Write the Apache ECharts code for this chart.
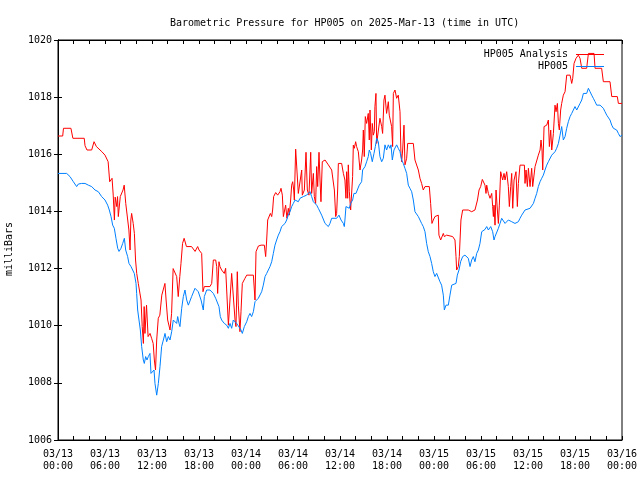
<!DOCTYPE html>
<html>
<head>
<meta charset="utf-8">
<script src="https://cdn.jsdelivr.net/npm/echarts@6/dist/echarts.min.js"></script>
<style>html,body{margin:0;padding:0;background:#fff;}#c{width:640px;height:480px;}</style>
</head>
<body>
<div id="c"></div>
<script>
var titleText = 'Barometric Pressure for HP005 on 2025-Mar-13 (time in UTC)';
var yName = 'milliBars';
var xTickLabels = ['03/13\n00:00','03/13\n06:00','03/13\n12:00','03/13\n18:00','03/14\n00:00','03/14\n06:00','03/14\n12:00','03/14\n18:00','03/15\n00:00','03/15\n06:00','03/15\n12:00','03/15\n18:00','03/16\n00:00'];
var seriesNames = ['HP005 Analysis', 'HP005'];

// [hours since 03/13 00:00 UTC, milliBars]
var analysisData = [
[0.0,1016.64],[0.6,1016.64],[0.7,1016.91],[1.65,1016.91],[1.9,1016.56],[3.35,1016.56],[3.45,1016.3],[3.7,1016.15],[4.3,1016.15],[4.6,1016.44],[4.9,1016.27],[5.6,1016.09],[6.0,1015.97],[6.4,1015.74],[6.6,1015.04],[6.9,1015.16],[7.05,1014.57],[7.2,1013.7],[7.3,1014.5],[7.5,1014.17],[7.6,1014.52],[7.7,1013.82],[7.95,1014.52],[8.1,1014.52],[8.3,1014.75],[8.45,1014.92],[8.65,1014.28],[8.9,1013.7],[9.05,1013.35],[9.2,1012.65],[9.3,1013.7],[9.4,1013.93],[9.6,1013.58],[9.75,1013.23],[9.9,1012.3],[10.05,1011.83],[10.25,1011.48],[10.45,1011.54],[10.6,1010.9],[10.75,1009.97],[10.9,1009.38],[11.0,1010.67],[11.1,1009.73],[11.3,1010.72],[11.5,1009.62],[11.75,1009.73],[11.95,1009.56],[12.15,1009.38],[12.3,1008.8],[12.45,1008.45],[12.6,1009.5],[12.8,1010.26],[13.0,1010.37],[13.25,1011.07],[13.45,1011.13],[13.65,1011.48],[13.8,1010.9],[14.0,1010.2],[14.3,1009.85],[14.5,1010.43],[14.7,1012.0],[14.95,1011.95],[15.15,1011.72],[15.35,1011.02],[15.55,1011.72],[15.7,1012.18],[15.9,1012.88],[16.1,1013.06],[16.4,1012.77],[16.6,1012.71],[17.05,1012.77],[17.5,1012.6],
[17.7,1012.65],[17.83,1012.77],[18.0,1012.65],[18.13,1012.71],[18.34,1012.53],[18.51,1011.19],[18.68,1011.37],[19.4,1011.37],[19.62,1011.48],[19.83,1012.3],[20.13,1012.3],[20.26,1012.07],[20.38,1011.13],[20.55,1012.24],[20.68,1012.07],[20.89,1011.95],[21.11,1012.01],[21.23,1011.83],[21.4,1012.01],[21.62,1011.95],[21.75,1010.02],[21.96,1009.97],[22.17,1011.83],[22.38,1011.83],[22.6,1010.2],[22.72,1009.97],[22.89,1011.89],[23.02,1010.72],[23.23,1009.79],[23.36,1010.49],[23.53,1011.48],[23.66,1011.42],[23.87,1011.66],[24.09,1011.77],[24.94,1011.77],[25.15,1010.9],[25.28,1012.59],[25.58,1012.79],[25.92,1012.82],[26.34,1012.82],[26.51,1012.42],[26.64,1013.0],[26.77,1013.7],[26.94,1013.76],[27.11,1013.93],[27.28,1013.82],[27.4,1014.05],[27.53,1014.52],[27.79,1014.66],[28.04,1014.57],[28.34,1014.69],[28.47,1014.81],[28.64,1014.57],[28.77,1013.82],[28.89,1013.76],[29.06,1014.22],[29.23,1013.76],[29.4,1014.11],[29.53,1013.87],[29.7,1014.4],[29.83,1014.92],[29.96,1015.04],[30.09,1014.75],[30.17,1014.4],[30.34,1016.18],[30.51,1016.18],[30.68,1014.63],[30.89,1014.57],[31.11,1015.45],[31.19,1014.57],[31.45,1014.75],[31.66,1016.07],[31.83,1014.75],[32.04,1014.57],[32.26,1016.07],[32.38,1014.63],[32.6,1015.33],[32.72,1014.52],[32.89,1014.28],[33.02,1015.57],[33.15,1014.87],[33.32,1016.07],[33.45,1015.1],[33.57,1014.34],[33.74,1015.74],[33.87,1015.68],[34.09,1015.8],[34.3,1015.74],[34.51,1015.63],[34.72,1015.68],[34.94,1015.45],[35.15,1015.45],[35.28,1014.75],[35.45,1013.82],[35.57,1013.93],[35.7,1014.75],[35.79,1015.68],[36.0,1015.72],[36.21,1015.68],[36.43,1015.33],
[36.63,1015.1],[36.76,1014.46],[36.85,1015.39],[36.98,1014.46],[37.06,1015.63],[37.19,1014.69],[37.36,1014.05],[37.53,1014.05],[37.61,1015.22],[37.7,1016.32],[37.83,1016.21],[38.0,1016.44],[38.12,1016.27],[38.34,1016.09],[38.55,1015.45],[38.76,1015.8],[38.89,1016.15],[38.98,1016.85],[39.1,1015.92],[39.23,1017.32],[39.4,1017.08],[39.61,1017.43],[39.74,1016.5],[39.83,1017.55],[40.0,1016.15],[40.12,1017.08],[40.25,1016.67],[40.38,1016.79],[40.46,1017.67],[40.59,1018.13],[40.68,1016.38],[40.89,1016.38],[41.1,1017.26],[41.32,1016.97],[41.44,1016.73],[41.61,1017.9],[41.74,1018.07],[41.95,1017.43],[42.17,1017.84],[42.29,1017.37],[42.46,1017.37],[42.59,1016.97],[42.72,1016.27],[42.81,1018.13],[43.02,1018.25],[43.23,1017.96],[43.44,1018.07],[43.66,1017.49],[43.78,1016.03],[43.87,1015.74],[44.0,1016.15],[44.17,1017.02],[44.29,1015.63],[44.51,1015.86],[44.64,1016.38],[45.36,1016.38],[45.57,1015.8],[45.78,1015.74],[46.0,1015.45],[46.21,1015.16],[46.42,1014.98],[46.63,1014.75],[46.85,1014.87],[47.06,1014.93],[47.4,1014.87],[47.57,1014.28],[47.74,1013.58],[47.91,1013.7],[48.12,1013.82],[48.34,1013.82],[48.55,1013.87],[48.63,1013.17],[48.85,1013.0],[49.06,1013.06],[49.19,1013.23],[49.32,1013.12],[49.61,1013.17],[50.38,1013.12],[50.68,1013.0],[50.81,1012.42],[50.89,1011.95],[51.1,1012.07],[51.23,1012.42],[51.44,1013.7],[51.66,1014.05],[52.38,1014.05],[52.81,1013.99],[53.23,1014.05],[53.45,1013.99],[53.55,1014.4],[53.75,1014.75],
[53.96,1014.87],[54.17,1015.12],[54.39,1015.1],[54.51,1014.92],[54.64,1014.63],[54.73,1014.92],[54.94,1014.63],[55.15,1014.46],[55.37,1014.63],[55.49,1014.17],[55.58,1013.82],[55.66,1014.22],[55.79,1013.52],[55.92,1014.75],[56.09,1014.05],[56.22,1013.58],[56.34,1014.22],[56.51,1015.39],[56.64,1015.45],[56.77,1015.1],[56.94,1015.33],[57.07,1015.1],[57.28,1015.39],[57.49,1014.87],[57.62,1014.17],[57.79,1014.87],[57.92,1015.33],[58.05,1014.11],[58.22,1015.1],[58.47,1015.39],[58.64,1014.17],[58.77,1014.98],[58.98,1015.62],[59.54,1015.62],[59.62,1014.98],[59.75,1015.45],[59.92,1014.87],[60.05,1015.51],[60.26,1014.87],[60.47,1015.51],[60.6,1014.87],[60.9,1015.57],[61.11,1015.57],[61.32,1015.97],[61.54,1016.15],[61.66,1016.5],[61.79,1016.15],[61.88,1015.45],[62.05,1016.97],[62.39,1017.02],[62.6,1017.2],[62.73,1016.27],[62.9,1016.85],[63.03,1016.15],[63.24,1016.73],[63.45,1017.72],[63.58,1017.49],[63.75,1017.78],[63.88,1017.08],[64.0,1016.85],[64.17,1017.55],[64.3,1017.78],[64.51,1018.07],[64.73,1018.19],[64.94,1018.77],[65.37,1018.77],[65.58,1018.48],[65.71,1018.66],[65.88,1019.18],[66.0,1019.12],[66.13,1019.36],[66.43,1019.47],[66.64,1019.36],[66.86,1019.01],[67.49,1019.01],[67.71,1019.53],[68.43,1019.53],[68.56,1019.01],[69.4,1019.01],[69.62,1018.54],[70.47,1018.54],[70.69,1018.02],[71.4,1018.02],[71.54,1017.78],[72.0,1017.78]
];

var stationData = [
[0.0,1015.33],[1.11,1015.33],[1.23,1015.39],[1.53,1015.22],[1.96,1015.04],[2.38,1014.87],[2.6,1014.96],[3.02,1014.98],[3.23,1015.04],[3.45,1014.98],[3.66,1015.04],[3.87,1014.92],[4.3,1014.87],[4.72,1014.75],[5.15,1014.69],[5.57,1014.52],[6.0,1014.4],[6.34,1014.22],[6.55,1014.05],[6.77,1013.82],[6.98,1013.52],[7.19,1013.41],[7.4,1013.06],[7.62,1012.71],[7.79,1012.6],[8.04,1012.71],[8.26,1012.88],[8.47,1013.06],[8.64,1012.65],[8.89,1012.42],[9.06,1012.18],[9.32,1012.07],[9.53,1012.07],[9.74,1011.83],[9.96,1011.48],[10.04,1011.13],[10.17,1010.55],[10.34,1010.2],[10.51,1009.85],[10.68,1009.27],[10.89,1008.8],[11.02,1008.68],[11.19,1008.92],[11.36,1008.8],[11.53,1008.92],[11.74,1009.03],[11.87,1008.33],[12.04,1008.31],[12.26,1008.45],[12.38,1007.98],[12.6,1007.57],[12.81,1007.98],[13.02,1008.57],[13.23,1009.27],[13.45,1009.5],[13.66,1009.73],[13.87,1009.44],[14.09,1009.62],[14.3,1009.5],[14.51,1009.79],[14.72,1010.2],[14.94,1010.2],[15.15,1010.08],[15.28,1010.32],[15.45,1010.08],[15.57,1009.97],[15.79,1010.61],[16.0,1011.02],[16.21,1011.25],[16.43,1010.9],[16.64,1010.72],[16.85,1010.72],[17.06,1011.02],[17.28,1010.96],[17.49,1011.31],[17.7,1011.37],[17.91,1011.19],[18.26,1010.9],[18.55,1010.55],
[18.68,1011.02],[18.98,1011.25],[19.4,1011.25],[19.83,1011.13],[20.13,1010.96],[20.38,1010.9],[20.55,1010.67],[20.72,1010.32],[20.89,1010.2],[21.23,1010.08],[21.4,1010.14],[21.53,1010.02],[21.75,1009.91],[21.96,1010.08],[22.17,1009.91],[22.38,1010.2],[22.6,1010.14],[22.81,1010.08],[23.02,1010.14],[23.36,1009.85],[23.53,1009.73],[23.79,1009.97],[24.09,1010.14],[24.3,1010.32],[24.51,1010.43],[24.72,1010.32],[24.94,1010.49],[25.15,1010.84],[25.36,1010.9],[25.57,1010.96],[26.0,1011.19],[26.21,1011.42],[26.43,1011.72],[26.64,1011.83],[26.85,1011.95],[27.06,1012.07],[27.28,1012.24],[27.49,1012.53],[27.7,1012.82],[27.91,1013.0],[28.13,1013.17],[28.34,1013.29],[28.55,1013.47],[28.77,1013.52],[28.98,1013.58],[29.19,1013.7],[29.4,1013.87],[29.62,1013.99],[29.83,1014.17],[30.04,1014.28],[30.26,1014.4],[30.47,1014.4],[30.68,1014.34],[30.89,1014.46],[31.11,1014.46],[31.32,1014.52],[31.53,1014.52],[31.74,1014.57],[31.96,1014.63],[32.17,1014.69],[32.38,1014.52],[32.6,1014.34],[32.81,1014.28],[33.02,1014.22],[33.23,1014.11],[33.45,1014.11],[33.66,1013.87],[33.87,1013.82],[34.09,1013.58],[34.3,1013.52],[34.51,1013.47],[34.72,1013.58],[34.94,1013.76],[35.15,1013.76],[35.57,1013.76],[35.87,1013.87],[36.13,1013.7],[36.43,1013.58],[36.55,1013.47],
[36.63,1013.7],[36.76,1014.17],[36.98,1014.11],[37.19,1014.11],[37.36,1014.28],[37.61,1014.4],[37.78,1014.63],[38.04,1014.63],[38.21,1014.75],[38.46,1014.92],[38.76,1015.04],[38.89,1015.45],[39.19,1015.57],[39.4,1015.74],[39.61,1015.92],[39.74,1016.15],[39.91,1016.03],[40.12,1015.74],[40.34,1016.03],[40.51,1016.27],[40.68,1016.56],[40.89,1016.44],[41.1,1015.92],[41.32,1015.74],[41.53,1015.86],[41.74,1016.33],[41.95,1016.15],[42.17,1016.33],[42.38,1016.21],[42.51,1016.33],[42.68,1015.8],[42.89,1016.15],[43.1,1016.21],[43.23,1016.33],[43.44,1016.21],[43.66,1016.09],[43.87,1015.8],[44.08,1015.68],[44.29,1015.51],[44.51,1015.33],[44.72,1014.92],[44.93,1014.81],[45.15,1014.69],[45.36,1014.4],[45.57,1013.99],[45.78,1013.93],[46.0,1013.82],[46.21,1013.7],[46.42,1013.58],[46.63,1013.47],[46.85,1013.29],[47.06,1012.88],[47.27,1012.59],[47.49,1012.42],[47.7,1012.18],[47.91,1011.89],[48.12,1011.72],[48.34,1011.83],[48.55,1011.77],[48.76,1011.54],[48.97,1011.42],[49.19,1011.07],[49.32,1010.55],[49.53,1010.72],[49.83,1010.72],[50.04,1011.07],[50.26,1011.42],[50.47,1011.42],[50.81,1011.48],[50.98,1011.77],[51.19,1011.95],[51.4,1012.24],[51.66,1012.42],[51.95,1012.47],[52.17,1012.53],[52.38,1012.36],[52.6,1012.07],[52.81,1012.3],[53.02,1012.42],[53.23,1012.24],[53.45,1012.53],[53.66,1012.65],[53.87,1012.88],
[54.09,1013.29],[54.3,1013.35],[54.51,1013.37],[54.73,1013.47],[54.94,1013.35],[55.24,1013.47],[55.49,1013.29],[55.66,1013.0],[55.79,1013.12],[56.0,1013.17],[56.22,1013.41],[56.43,1013.58],[56.64,1013.76],[56.86,1013.76],[57.07,1013.58],[57.28,1013.64],[57.49,1013.7],[57.71,1013.76],[57.92,1013.64],[58.13,1013.64],[58.34,1013.58],[58.56,1013.58],[58.77,1013.64],[58.98,1013.76],[59.2,1013.87],[59.41,1013.93],[59.62,1014.05],[59.83,1014.11],[60.26,1014.11],[60.47,1014.17],[60.69,1014.28],[60.9,1014.46],[61.11,1014.63],[61.32,1014.87],[61.54,1015.04],[61.75,1015.16],[61.96,1015.27],[62.17,1015.45],[62.39,1015.62],[62.6,1015.74],[62.81,1015.8],[63.03,1015.97],[63.24,1016.03],[63.45,1016.09],[63.66,1016.21],[63.88,1016.38],[64.09,1016.67],[64.3,1016.97],[64.51,1016.5],[64.73,1016.62],[64.94,1016.91],[65.15,1017.14],[65.37,1017.32],[65.58,1017.43],[65.79,1017.49],[66.0,1017.67],[66.22,1017.55],[66.43,1017.61],[66.64,1017.78],[66.86,1017.9],[67.07,1018.13],[67.28,1018.19],[67.49,1018.13],[67.71,1018.31],[67.92,1018.19],[68.13,1018.07],[68.34,1017.96],[68.56,1017.84],[68.77,1017.72],[68.98,1017.67],[69.2,1017.72],[69.41,1017.78],[69.62,1017.61],[69.83,1017.49],[70.05,1017.37],[70.26,1017.32],[70.47,1017.2],[70.69,1017.02],[70.9,1016.91],[71.11,1016.85],[71.32,1016.85],[71.54,1016.73],[71.75,1016.62],[72.0,1016.67]
];

var FONT = '"DejaVu Sans Mono", "Liberation Mono", monospace';
var chart = echarts.init(document.getElementById('c'), null, {renderer: 'canvas'});
function tick() { return {show: true, inside: true, length: 4, lineStyle: {color: '#000000', width: 1}}; }
function minor() { return {show: true, splitNumber: 3, length: 4, lineStyle: {color: '#000000', width: 1}}; }
chart.setOption({
  animation: false,
  backgroundColor: '#ffffff',
  title: {
    text: titleText, left: 165, top: 13,
    textStyle: {fontFamily: FONT, fontSize: 10, fontWeight: 'normal', color: '#000'}
  },
  legend: [
    {data: [seriesNames[0]], right: 31, top: 44.5, align: 'right', icon: 'rect', itemWidth: 28, itemHeight: 1,
     textStyle: {fontFamily: FONT, fontSize: 10, color: '#000', padding: [0, 3, 0, 0]}},
    {data: [seriesNames[1]], right: 31, top: 56.5, align: 'right', icon: 'rect', itemWidth: 28, itemHeight: 1,
     textStyle: {fontFamily: FONT, fontSize: 10, color: '#000', padding: [0, 3, 0, 0]}}
  ],
  grid: {left: 58, right: 18, top: 40, bottom: 40, show: true, borderColor: '#000', borderWidth: 1,
         containLabel: false, outerBoundsMode: 'none'},
  xAxis: [
    {type: 'value', min: 0, max: 72, interval: 6, position: 'bottom',
     axisLine: {show: true, lineStyle: {color: '#000'}}, axisTick: tick(), minorTick: minor(),
     splitLine: {show: false}, minorSplitLine: {show: false},
     axisLabel: {fontFamily: FONT, fontSize: 10, color: '#000', lineHeight: 12, margin: 8,
       formatter: function (v) { return xTickLabels[Math.round(v / 6)]; }}},
    {type: 'value', min: 0, max: 72, interval: 6, position: 'top',
     axisLine: {show: true, lineStyle: {color: '#000'}}, axisTick: tick(), minorTick: minor(),
     splitLine: {show: false}, minorSplitLine: {show: false}, axisLabel: {show: false}}
  ],
  yAxis: [
    {type: 'value', min: 1006, max: 1020, interval: 2, position: 'left',
     name: yName, nameLocation: 'middle', nameGap: 44,
     nameTextStyle: {fontFamily: FONT, fontSize: 10, color: '#000', padding: [0, 18, 0, 0]},
     axisLine: {show: true, lineStyle: {color: '#000'}}, axisTick: tick(),
     splitLine: {show: false},
     axisLabel: {fontFamily: FONT, fontSize: 10, color: '#000', margin: 6,
       formatter: function (v) { return String(v); }}},
    {type: 'value', min: 1006, max: 1020, interval: 2, position: 'right',
     axisLine: {show: true, lineStyle: {color: '#000'}}, axisTick: tick(),
     splitLine: {show: false}, axisLabel: {show: false}}
  ],
  series: [
    {name: seriesNames[0], type: 'line', data: analysisData, showSymbol: false, symbol: 'none',
     lineStyle: {color: '#ff0000', width: 1}, itemStyle: {color: '#ff0000'}},
    {name: seriesNames[1], type: 'line', data: stationData, showSymbol: false, symbol: 'none',
     lineStyle: {color: '#0080ff', width: 1}, itemStyle: {color: '#0080ff'}}
  ]
});
</script>
</body>
</html>
